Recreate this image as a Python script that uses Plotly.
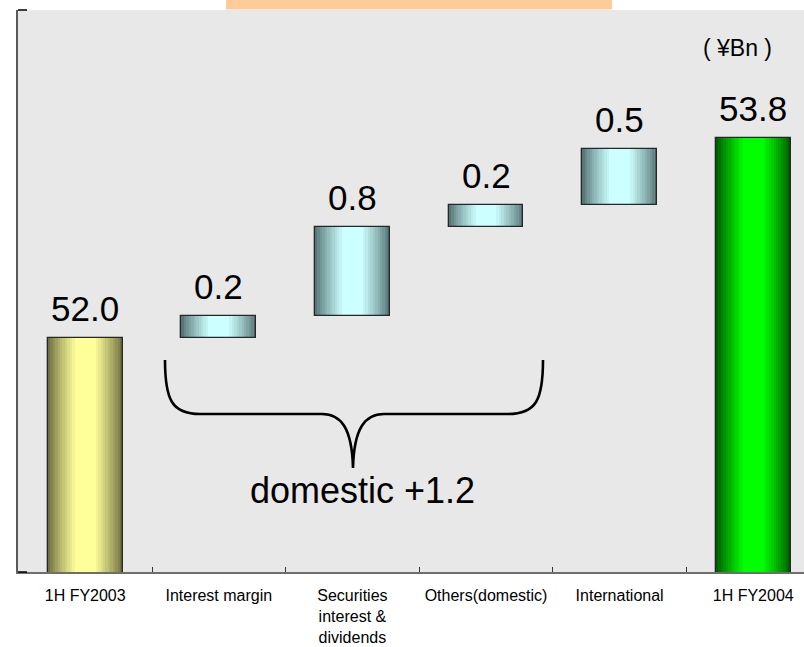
import plotly.graph_objects as go

# ---- data (¥Bn) ----
categories = ["1H FY2003", "Interest margin", "Securities<br>interest &<br>dividends",
              "Others(domestic)", "International", "1H FY2004"]
start_value = 52.0
changes = [0.2, 0.8, 0.2, 0.5]          # Interest margin, Securities, Others, International
end_value = 53.8
domestic_count = 3                      # first three changes are domestic items

# ---- derived bar geometry (floating waterfall) ----
bases, heights = [0.0], [start_value]
running = start_value
for c in changes:
    bases.append(running)
    heights.append(c)
    running += c
bases.append(0.0)
heights.append(end_value)
tops = [b + h for b, h in zip(bases, heights)]
label_values = [start_value] + changes + [end_value]
domestic_total = sum(changes[:domestic_count])

# ---- styling ----
W, H = 804, 647
ML, MR, MT, MB = 18, 0, 10, 75
Y_RANGE = [49.892, 54.955]
X_RANGE = [-0.503, 5.38]
BAR_W = 0.56
FONT = "Liberation Sans, Arial, sans-serif"

# edge (dark) and centre (light) colours of each bar's cylinder shading
palette = {
    "start": ((112, 112, 66), (255, 255, 153)),
    "step": ((88, 118, 118), (204, 255, 255)),
    "end": ((0, 92, 0), (0, 255, 0)),
}
kinds = ["start"] + ["step"] * len(changes) + ["end"]


def mix(a, b, t):
    return "rgb({},{},{})".format(*(round(a[i] + (b[i] - a[i]) * t) for i in range(3)))


fig = go.Figure()

# shaded bars: stacked layers of narrowing width, darker outside -> lighter inside
N_LAYERS = 12
for k in range(N_LAYERS):
    t = k / (N_LAYERS - 1)
    frac = 1.0 - 0.72 * t
    colors = [mix(palette[kd][0], palette[kd][1], t ** 0.85) for kd in kinds]
    fig.add_trace(go.Bar(
        x=categories, y=heights, base=bases, width=BAR_W * frac,
        marker=dict(color=colors, line=dict(width=0)),
        showlegend=False, hoverinfo="skip",
    ))

# outline layer
fig.add_trace(go.Bar(
    x=categories, y=heights, base=bases, width=BAR_W,
    marker=dict(color="rgba(0,0,0,0)", line=dict(color="#262626", width=1.3)),
    showlegend=False,
    customdata=label_values,
    hovertemplate="%{x}: %{customdata:.1f}<extra></extra>",
))

# value labels above each bar
for cat, top, val in zip(categories, tops, label_values):
    fig.add_annotation(
        x=cat, y=top, xref="x", yref="y", text=f"{val:.1f}", showarrow=False,
        yanchor="bottom", yshift=8, font=dict(family=FONT, size=35, color="black"),
    )


def px_to_paper(px, py):
    plot_w = W - ML - MR
    plot_h = H - MT - MB
    return (px - ML) / plot_w, (H - MB - py) / plot_h


def brace_path(points):
    parts = []
    for cmd, pts in points:
        coords = " ".join("{:.5f},{:.5f}".format(*px_to_paper(x, y)) for x, y in pts)
        parts.append(f"{cmd} {coords}")
    return " ".join(parts)


brace = brace_path([
    ("M", [(165, 360)]),
    ("C", [(165, 400), (172, 414), (200, 414)]),
    ("L", [(322, 414)]),
    ("C", [(341, 414), (352, 428), (353, 468)]),
    ("C", [(354, 428), (365, 414), (384, 414)]),
    ("L", [(508, 414)]),
    ("C", [(536, 414), (543, 400), (543, 360)]),
])
fig.add_shape(type="path", path=brace, xref="paper", yref="paper",
              line=dict(color="black", width=2.6))

# title banner strip above the plot
bx0, by0 = px_to_paper(226, 0)
bx1, by1 = px_to_paper(612, 9.5)
fig.add_shape(type="rect", xref="paper", yref="paper", x0=bx0, x1=bx1, y0=by1, y1=by0,
              fillcolor="#FFCC99", line=dict(width=0), layer="above")

# short ticks at the top and bottom of the value axis
for yv in Y_RANGE:
    y0p = (yv - Y_RANGE[0]) / (Y_RANGE[1] - Y_RANGE[0])
    fig.add_shape(type="line", xref="paper", yref="paper",
                  x0=0, x1=px_to_paper(ML + 9, 0)[0], y0=y0p, y1=y0p,
                  line=dict(color="black", width=1.5), layer="above")

dx, dy = px_to_paper(362, 490)
fig.add_annotation(x=dx, y=dy, xref="paper", yref="paper",
                   text=f"domestic +{domestic_total:.1f}", showarrow=False,
                   xanchor="center", yanchor="middle",
                   font=dict(family=FONT, size=36, color="black"))

ux, uy = px_to_paper(737, 48)
fig.add_annotation(x=ux, y=uy, xref="paper", yref="paper", text="( ¥Bn )",
                   showarrow=False, xanchor="center", yanchor="middle",
                   font=dict(family=FONT, size=23, color="black"))

fig.update_layout(
    width=W, height=H,
    margin=dict(l=ML, r=MR, t=MT, b=MB, pad=0),
    paper_bgcolor="white", plot_bgcolor="#E8E8E8",
    barmode="overlay", bargap=0,
    font=dict(family=FONT, color="black"),
    xaxis=dict(
        type="category", range=X_RANGE, tickson="boundaries",
        ticks="inside", ticklen=5, tickwidth=1, tickcolor="#333333",
        ticklabelstandoff=8,
        showline=True, linecolor="#6e6e6e", linewidth=2,
        showgrid=False, zeroline=False,
        tickfont=dict(family=FONT, size=16, color="black"),
    ),
    yaxis=dict(
        range=Y_RANGE, showticklabels=False, ticks="",
        showgrid=False, zeroline=False,
        showline=True, linecolor="#5a5a5a", linewidth=2,
    ),
)

fig.write_html("out.html")
